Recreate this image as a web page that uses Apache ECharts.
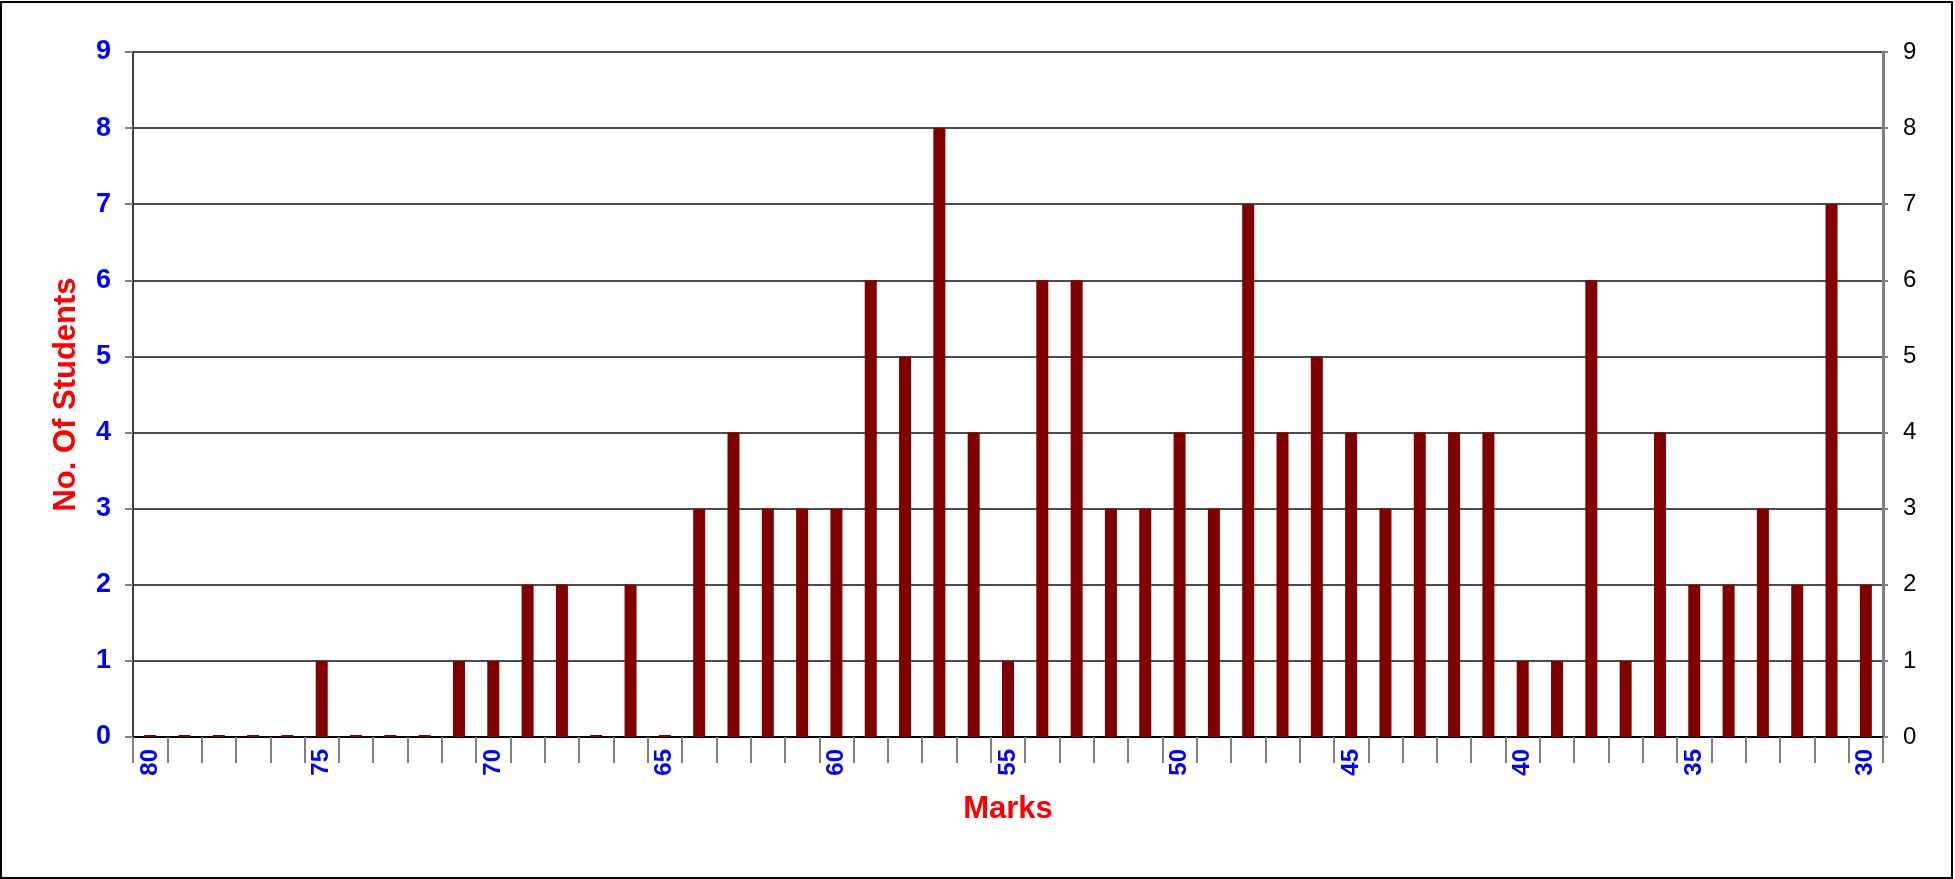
<!DOCTYPE html>
<html>
<head>
<meta charset="utf-8">
<script src="https://cdn.jsdelivr.net/npm/echarts@6/dist/echarts.min.js"></script>
<style>
html,body{margin:0;padding:0;background:#fff;}
#chart{width:1955px;height:879px;}
</style>
</head>
<body>
<div id="chart"></div>
<script>
const marks = ['80','79','78','77','76','75','74','73','72','71','70','69','68','67','66','65','64','63','62','61','60','59','58','57','56','55','54','53','52','51','50','49','48','47','46','45','44','43','42','41','40','39','38','37','36','35','34','33','32','31','30'];
const students = [0,0,0,0,0,1,0,0,0,1,1,2,2,0,2,0,3,4,3,3,3,6,5,8,4,1,6,6,3,3,4,3,7,4,5,4,3,4,4,4,1,1,6,1,4,2,2,3,2,7,2];
const yTicks = [0,1,2,3,4,5,6,7,8,9];

const chart = echarts.init(document.getElementById('chart'));
const font = 'Liberation Sans, Arial, sans-serif';
chart.setOption({
  animation: false,
  backgroundColor: '#fff',
  graphic: [{
    type: 'rect',
    shape: {x: 1, y: 2, width: 1951, height: 876},
    style: {fill: 'none', stroke: '#000', lineWidth: 2},
    silent: true
  }],
  grid: {left: 133, right: 72, top: 52, bottom: 142, containLabel: false},
  xAxis: {
    type: 'category',
    data: marks,
    boundaryGap: true,
    name: 'Marks',
    nameLocation: 'middle',
    nameGap: 57,
    nameTextStyle: {color: '#ff0000', fontWeight: 'bold', fontSize: 31, fontFamily: font},
    axisLine: {show: true, lineStyle: {color: '#000', width: 2}},
    axisTick: {show: true, interval: 0, length: 26, lineStyle: {color: '#808080', width: 2}},
    axisLabel: {interval: 4, rotate: 90, margin: 12, color: '#0000ff', fontWeight: 'bold', fontSize: 24, fontFamily: font},
    splitLine: {show: false}
  },
  yAxis: [{
    type: 'value',
    min: yTicks[0],
    max: yTicks[yTicks.length - 1],
    interval: 1,
    position: 'left',
    name: 'No. Of Students',
    nameLocation: 'middle',
    nameGap: 51,
    nameTextStyle: {color: '#ff0000', fontWeight: 'bold', fontSize: 31, fontFamily: font},
    axisLine: {show: true, lineStyle: {color: '#000', width: 1.5}},
    axisTick: {show: true, length: 8, lineStyle: {color: '#808080', width: 2}},
    axisLabel: {margin: 22, color: '#0000ff', fontWeight: 'bold', fontSize: 27, fontFamily: font},
    splitLine: {show: true, lineStyle: {color: '#111', width: 1.5}}
  }, {
    type: 'value',
    min: yTicks[0],
    max: yTicks[yTicks.length - 1],
    interval: 1,
    position: 'right',
    axisLine: {show: true, lineStyle: {color: '#808080', width: 3}},
    axisTick: {show: true, length: 5, lineStyle: {color: '#808080', width: 2}},
    axisLabel: {margin: 20, color: '#000', fontSize: 24, fontFamily: font},
    splitLine: {show: false}
  }],
  series: [{
    type: 'bar',
    data: students,
    yAxisIndex: 0,
    barWidth: 12,
    barMinHeight: 2,
    itemStyle: {color: '#800000'}
  }]
});
</script>
</body>
</html>
